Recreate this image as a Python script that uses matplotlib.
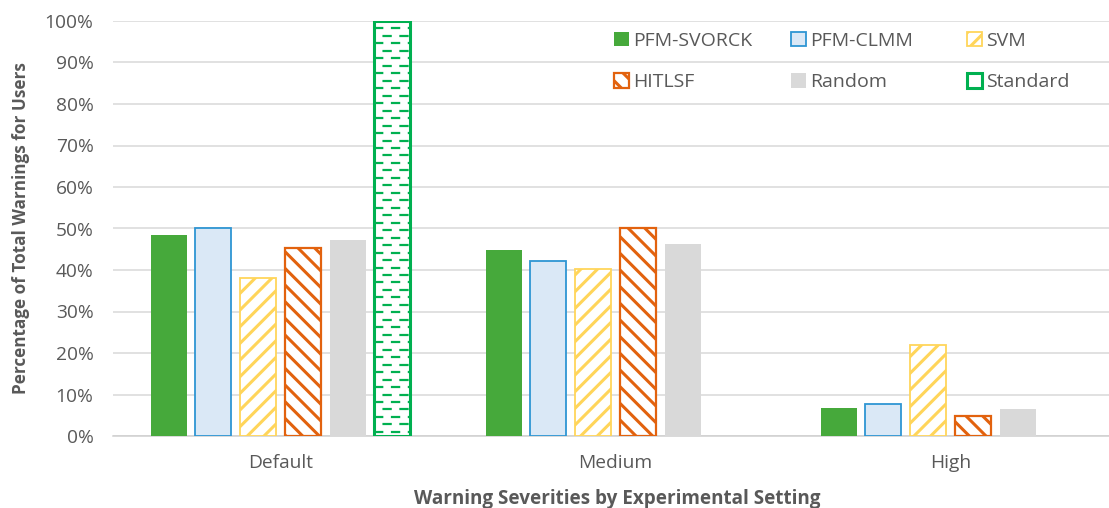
import numpy as np
import matplotlib
matplotlib.use("Agg")
import matplotlib.pyplot as plt
from matplotlib.patches import Patch

plt.rcParams['font.family'] = ['Open Sans', 'DejaVu Sans']
plt.rcParams['hatch.linewidth'] = 2.2

# warning share per severity setting (percent)
settings = ['Default', 'Medium', 'High']
pfm_svorck = [48.4, 44.8, 6.7]
pfm_clmm = [50.1, 42.2, 7.7]
svm = [38.0, 40.2, 21.9]
hitlsf = [45.3, 50.1, 4.8]
random_sel = [47.2, 46.3, 6.5]
standard = [100.0, np.nan, np.nan]

series = [
    ('PFM-SVORCK', pfm_svorck, dict(facecolor='#46A93B', edgecolor='#46A93B', linewidth=0)),
    ('PFM-CLMM', pfm_clmm, dict(facecolor='#DAE8F6', edgecolor='#2E95D3', linewidth=1.3)),
    ('SVM', svm, dict(facecolor='white', edgecolor='#FFD55A', linewidth=1.3, hatch='//')),
    ('HITLSF', hitlsf, dict(facecolor='white', edgecolor='#E2620E', linewidth=1.6, hatch='\\\\')),
    ('Random', random_sel, dict(facecolor='#D9D9D9', edgecolor='#D9D9D9', linewidth=0)),
    ('Standard', standard, dict(facecolor='white', edgecolor='#00B050', linewidth=2.2)),
]

fig = plt.figure(figsize=(11.09, 5.08), dpi=100)
ax = fig.add_axes([113 / 1109, 72 / 508, 1005 / 1109, 415 / 508])

x = np.arange(len(settings))
step = 0.1336
width = 0.107
handles = []
std_bars = None
for i, (name, vals, style) in enumerate(series):
    bars = ax.bar(x + (i - 2.5) * step, vals, width, zorder=3, **style)
    handles.append(Patch(label=name, **style))
    if name == 'Standard':
        std_bars = bars

# dashed fill for the Standard bar, clipped to the bar outline
for p in std_bars.patches:
    h = p.get_height()
    if not np.isfinite(h) or h <= 0:
        continue
    x0, w = p.get_x(), p.get_width()
    for k, yy in enumerate(np.arange(1.0, h, 1.8)):
        off = 0 if k % 2 == 0 else 3.8
        ln, = ax.plot([x0, x0 + w], [yy, yy], color='#00B050', lw=1.6,
                      zorder=4, solid_capstyle='butt', dash_capstyle='butt',
                      linestyle=(off, (4.2, 3.4)))
        ln.set_clip_path(p)

ax.set_xlim(-0.5, 2.5)
ax.set_ylim(0, 100)
ax.set_yticks(np.arange(0, 101, 10))
ax.set_yticklabels([f'{v}%' for v in range(0, 101, 10)])
ax.set_xticks(x)
ax.set_xticklabels(settings)
ax.tick_params(axis='both', length=0, labelsize=13.8, labelcolor='#595959')
ax.tick_params(axis='y', pad=14)
ax.tick_params(axis='x', pad=13)
ax.grid(axis='y', color='#D9D9D9', lw=1.1, zorder=0)
for s in ['top', 'right', 'left']:
    ax.spines[s].set_visible(False)
ax.spines['bottom'].set_color('#D0D0D0')
ax.spines['bottom'].set_linewidth(1.1)

ax.set_ylabel('Percentage of Total Warnings for Users', fontsize=12.3,
              fontweight='bold', color='#595959')
ax.yaxis.set_label_coords(-83 / 1005, 0.5)
fig.text(617 / 1109, 1 - 499 / 508, 'Warning Severities by Experimental Setting',
         ha='center', va='center', fontsize=13.6, fontweight='bold', color='#595959')

# three legend columns placed side by side
col_x = [614, 791, 967]
order = [(0, 3), (1, 4), (2, 5)]
for cx, (a, b) in zip(col_x, order):
    leg = fig.legend(handles=[handles[a], handles[b]], loc='upper left',
                     bbox_to_anchor=(cx / 1109, 1 - 32 / 508), frameon=False,
                     fontsize=14, labelcolor='#595959', handlelength=0.75,
                     handleheight=0.75, handletextpad=0.25, labelspacing=1.2,
                     borderpad=0, borderaxespad=0)

fig.savefig('out.png', dpi=100)
